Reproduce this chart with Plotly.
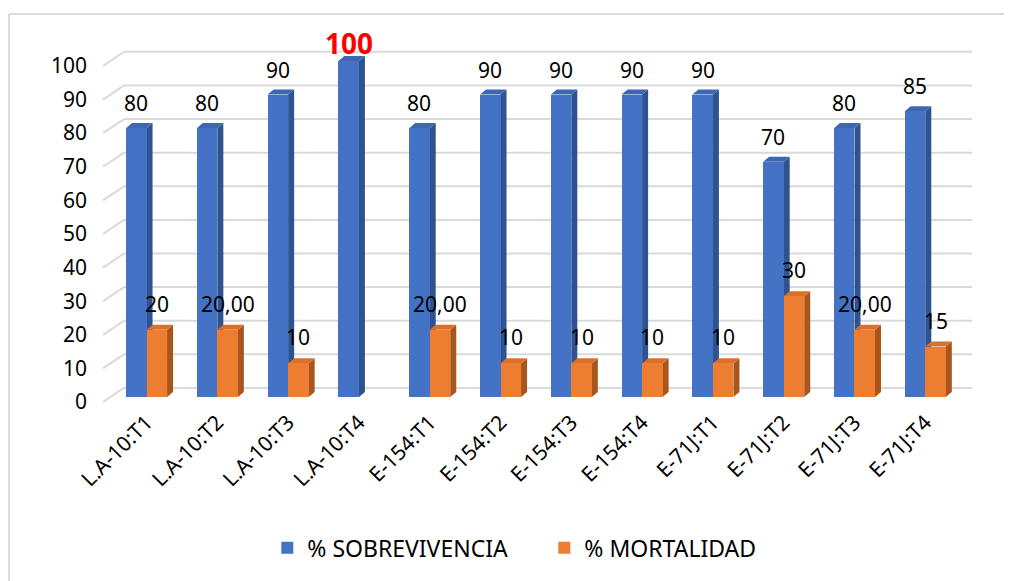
import plotly.graph_objects as go

categories = ["L.A-10:T1", "L.A-10:T2", "L.A-10:T3", "L.A-10:T4",
              "E-154:T1", "E-154:T2", "E-154:T3", "E-154:T4",
              "E-71J:T1", "E-71J:T2", "E-71J:T3", "E-71J:T4"]
sobrevivencia = [80, 80, 90, 100, 80, 90, 90, 90, 90, 70, 80, 85]
mortalidad = [20, 20, 10, 0, 20, 10, 10, 10, 10, 30, 20, 15]
sobre_labels = ["80", "80", "90", "100", "80", "90", "90", "90", "90", "70", "80", "85"]
mort_labels = ["20", "20,00", "10", "", "20,00", "10", "10", "10", "10", "30", "20,00", "15"]
y_ticks = [0, 10, 20, 30, 40, 50, 60, 70, 80, 90, 100]

BLUE, BLUE_SIDE, BLUE_TOP = "#4472c4", "#2f5290", "#3d67b3"
ORANGE, ORANGE_SIDE, ORANGE_TOP = "#ed7d31", "#a9561c", "#dc7028"
FONT = "Noto Sans"

W = 0.29      # bar width in category units
DX = 0.085    # depth offset x (category units)
DY = 1.5      # depth offset y (value units)
GDY = 2.7     # back wall offset for gridlines

xpos = list(range(len(categories)))
X0, X1 = -0.629, 11.66
Y0, Y1 = -2.38, 109.2

fig = go.Figure()
fig.add_trace(go.Bar(x=xpos, y=sobrevivencia, width=W, offset=-W, name="% SOBREVIVENCIA",
                     marker=dict(color=BLUE, line=dict(width=0))))
fig.add_trace(go.Bar(x=xpos, y=mortalidad, width=W, offset=0, name="% MORTALIDAD",
                     marker=dict(color=ORANGE, line=dict(width=0))))

shapes = []
# back-wall gridlines with slanted floor segments
for v in y_ticks:
    shapes.append(dict(type="line", xref="x", yref="y", x0=-0.318, x1=X1, y0=v + GDY, y1=v + GDY,
                       line=dict(color="#d9d9d9", width=2), layer="below"))
    shapes.append(dict(type="line", xref="x", yref="y", x0=-0.615, x1=-0.318, y0=v - 1.5, y1=v + GDY,
                       line=dict(color="#d9d9d9", width=2), layer="below"))

def faces(xl, xr, v, side, top):
    if v <= 0:
        return
    shapes.append(dict(type="path", xref="x", yref="y", layer="between",
                       path=f"M {xr},0 L {xr+DX},{DY} L {xr+DX},{v+DY} L {xr},{v} Z",
                       fillcolor=side, line=dict(width=0)))
    shapes.append(dict(type="path", xref="x", yref="y", layer="between",
                       path=f"M {xl},{v} L {xl+DX},{v+DY} L {xr+DX},{v+DY} L {xr},{v} Z",
                       fillcolor=top, line=dict(width=0)))

for i in xpos:
    faces(i - W, i, sobrevivencia[i], BLUE_SIDE, BLUE_TOP)
    faces(i, i + W, mortalidad[i], ORANGE_SIDE, ORANGE_TOP)

# outer frame (top and left edges)
shapes.append(dict(type="line", xref="paper", yref="paper", x0=-0.1069, x1=1.06, y0=1.0427, y1=1.0427,
                   line=dict(color="#d9d9d9", width=2)))
shapes.append(dict(type="line", xref="paper", yref="paper", x0=-0.1069, x1=-0.1069, y0=1.0427, y1=-0.5,
                   line=dict(color="#d9d9d9", width=2)))

annotations = []
for i in xpos:
    if sobre_labels[i] == "100":
        annotations.append(dict(x=i - W / 2, y=sobrevivencia[i], text=sobre_labels[i], showarrow=False,
                                yanchor="middle", yshift=18,
                                font=dict(family=FONT, size=28, color="#ff0000", weight="bold")))
    else:
        annotations.append(dict(x=i - W / 2, y=sobrevivencia[i], text=sobre_labels[i], showarrow=False,
                                yanchor="middle", yshift=25, font=dict(family=FONT, size=21, color="#000000")))
    if mort_labels[i]:
        annotations.append(dict(x=i + W / 2, y=mortalidad[i], text=mort_labels[i], showarrow=False,
                                yanchor="middle", yshift=26, font=dict(family=FONT, size=21, color="#000000")))

fig.update_layout(
    width=1004, height=573,
    margin=dict(l=94, r=40, t=22, b=176),
    paper_bgcolor="white", plot_bgcolor="white",
    showlegend=True,
    legend=dict(orientation="h", x=0.19, xanchor="left", y=-0.381, yanchor="middle",
                font=dict(family=FONT, size=23, color="#000000"), itemwidth=30,
                entrywidth=232, tracegroupgap=0),
    shapes=shapes, annotations=annotations,
    font=dict(family=FONT, color="#000000"),
    bargap=0,
)
fig.update_xaxes(range=[X0, X1], tickvals=xpos, ticktext=categories, tickangle=-45,
                 showgrid=False, zeroline=False, showline=False, ticks="",
                 tickfont=dict(family=FONT, size=21, color="#000000"))
fig.update_yaxes(range=[Y0, Y1], tickvals=y_ticks, showgrid=False, zeroline=False, showline=False,
                 ticks="", ticklabelstandoff=14, ticklabelshift=5,
                 tickfont=dict(family=FONT, size=21, color="#000000"))

fig.write_html("out.html")
